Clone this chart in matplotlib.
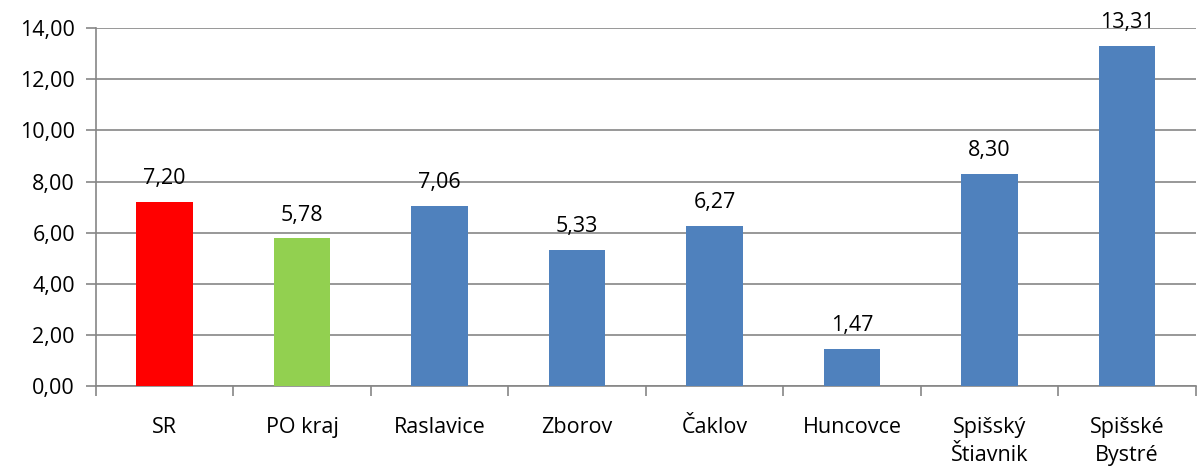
import matplotlib.pyplot as plt
import numpy as np

categories = ['SR', 'PO kraj', 'Raslavice', 'Zborov', 'Čaklov', 'Huncovce',
              'Spišský\nŠtiavnik', 'Spišské\nBystré']
values = [7.20, 5.78, 7.06, 5.33, 6.27, 1.47, 8.30, 13.31]
colors = ['#FF0000', '#92D050'] + ['#4F81BD'] * 6
yticks = [0, 2, 4, 6, 8, 10, 12, 14]

plt.rcParams['font.family'] = ['Open Sans', 'DejaVu Sans']
plt.rcParams['font.size'] = 15.5

fig = plt.figure(figsize=(11.97, 4.75), dpi=100)
ax = fig.add_axes([0.080, 0.187, 0.919, 0.754])

x = np.arange(len(categories))
ax.bar(x, values, width=0.41, color=colors, zorder=3)
for xi, v in zip(x, values):
    ax.text(xi, v + 0.5, f'{v:.2f}'.replace('.', ','), ha='center', va='bottom')

ax.set_xlim(-0.5, len(categories) - 0.5)
ax.set_ylim(0, 14)
ax.set_yticks(yticks)
ax.set_yticklabels([f'{t:.2f}'.replace('.', ',') for t in yticks])
ax.yaxis.grid(True, color='#868686', linewidth=1.2, zorder=0)

ax.set_xticks(np.arange(len(categories) + 1) - 0.5)
ax.set_xticklabels([])
ax.set_xticks(x, minor=True)
ax.set_xticklabels(categories, minor=True, va='top', linespacing=1.45)
ax.tick_params(axis='x', which='minor', length=0, pad=22)
ax.tick_params(axis='x', which='major', length=7, width=1.2, color='#868686')
ax.tick_params(axis='y', length=7, width=1.2, color='#868686', pad=8)

for side in ['top', 'right']:
    ax.spines[side].set_visible(False)
for side in ['left', 'bottom']:
    ax.spines[side].set_color('#868686')
    ax.spines[side].set_linewidth(1.2)

fig.savefig('out.png', dpi=100)
